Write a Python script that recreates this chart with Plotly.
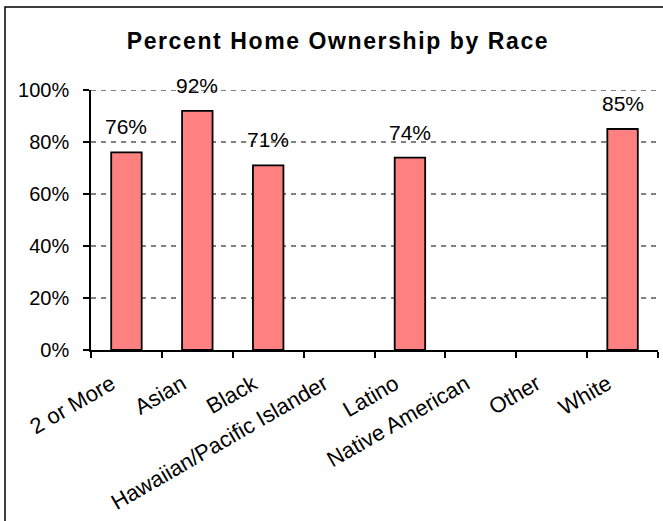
import plotly.graph_objects as go

categories = ["2 or More", "Asian", "Black", "Hawaiian/Pacific Islander",
              "Latino", "Native American", "Other", "White"]
ownership = [0.76, 0.92, 0.71, None, 0.74, None, None, 0.85]
y_ticks = [0, 0.2, 0.4, 0.6, 0.8, 1.0]
y_tick_labels = ["0%", "20%", "40%", "60%", "80%", "100%"]
title_text = "Percent Home Ownership by Race"

W, H = 663, 521
ML, MR, MT, MB = 91, 5, 90, 171
pw, ph = W - ML - MR, H - MT - MB

fig = go.Figure()
fig.add_trace(go.Bar(
    x=categories, y=ownership,
    marker=dict(color="#FF8080", line=dict(color="black", width=1.8)),
    hoverinfo="skip",
))

annotations = []
for c, v in zip(categories, ownership):
    if v is None:
        continue
    annotations.append(dict(
        x=c, y=v, xref="x", yref="y", text=f"{round(v*100)}%",
        showarrow=False, yanchor="bottom", yshift=12,
        font=dict(family="Liberation Sans, Arial", size=21, color="black"),
    ))

shapes = [dict(
    type="rect", xref="paper", yref="paper",
    x0=(5 - ML) / pw, x1=(W + 10 - ML) / pw,
    y0=-(H + 10 - MT - ph) / ph, y1=(MT + ph - 7) / ph,
    line=dict(color="black", width=1.5), fillcolor="rgba(0,0,0,0)", layer="below",
)]
# top gridline (plotly drops the gridline that sits on the plot edge)
shapes.append(dict(
    type="line", xref="paper", yref="y", x0=0, x1=1, y0=y_ticks[-1], y1=y_ticks[-1],
    line=dict(color="#808080", width=2, dash="5px,5px"), layer="below",
))

fig.update_layout(
    width=W, height=H,
    margin=dict(l=ML, r=MR, t=MT, b=MB, pad=0),
    paper_bgcolor="white", plot_bgcolor="white",
    showlegend=False,
    bargap=0.57,
    title=dict(
        text=f'<span style="letter-spacing:1.6px">{title_text}</span>',
        x=338 / W, xref="container", xanchor="center",
        y=1 - 41 / H, yref="container", yanchor="middle",
        font=dict(family="Liberation Sans, Arial", size=23, color="black", weight="bold"),
    ),
    font=dict(family="Liberation Sans, Arial", size=20, color="black"),
    annotations=annotations,
    shapes=shapes,
)

fig.update_xaxes(
    type="category", categoryorder="array", categoryarray=categories,
    showline=True, linecolor="black", linewidth=1.5,
    ticks="outside", tickson="boundaries", ticklen=6, tickcolor="black", tickwidth=1.5,
    tickangle=-30, showgrid=False,
    ticklabelshift=-15, ticklabelstandoff=11,
    tickfont=dict(family="Liberation Sans, Arial", size=22, color="black"),
)
fig.update_yaxes(
    range=[0, 1.0], tickvals=y_ticks, ticktext=y_tick_labels,
    showline=True, linecolor="black", linewidth=1.5,
    ticks="outside", ticklen=6, tickcolor="black", tickwidth=1.5,
    ticklabelstandoff=10,
    showgrid=True, gridcolor="#808080", gridwidth=2, griddash="5px,5px",
    zeroline=False,
    tickfont=dict(family="Liberation Sans, Arial", size=20, color="black"),
)

fig.write_html("out.html", config={"displayModeBar": False},
               post_script="document.body.style.margin='0';")
